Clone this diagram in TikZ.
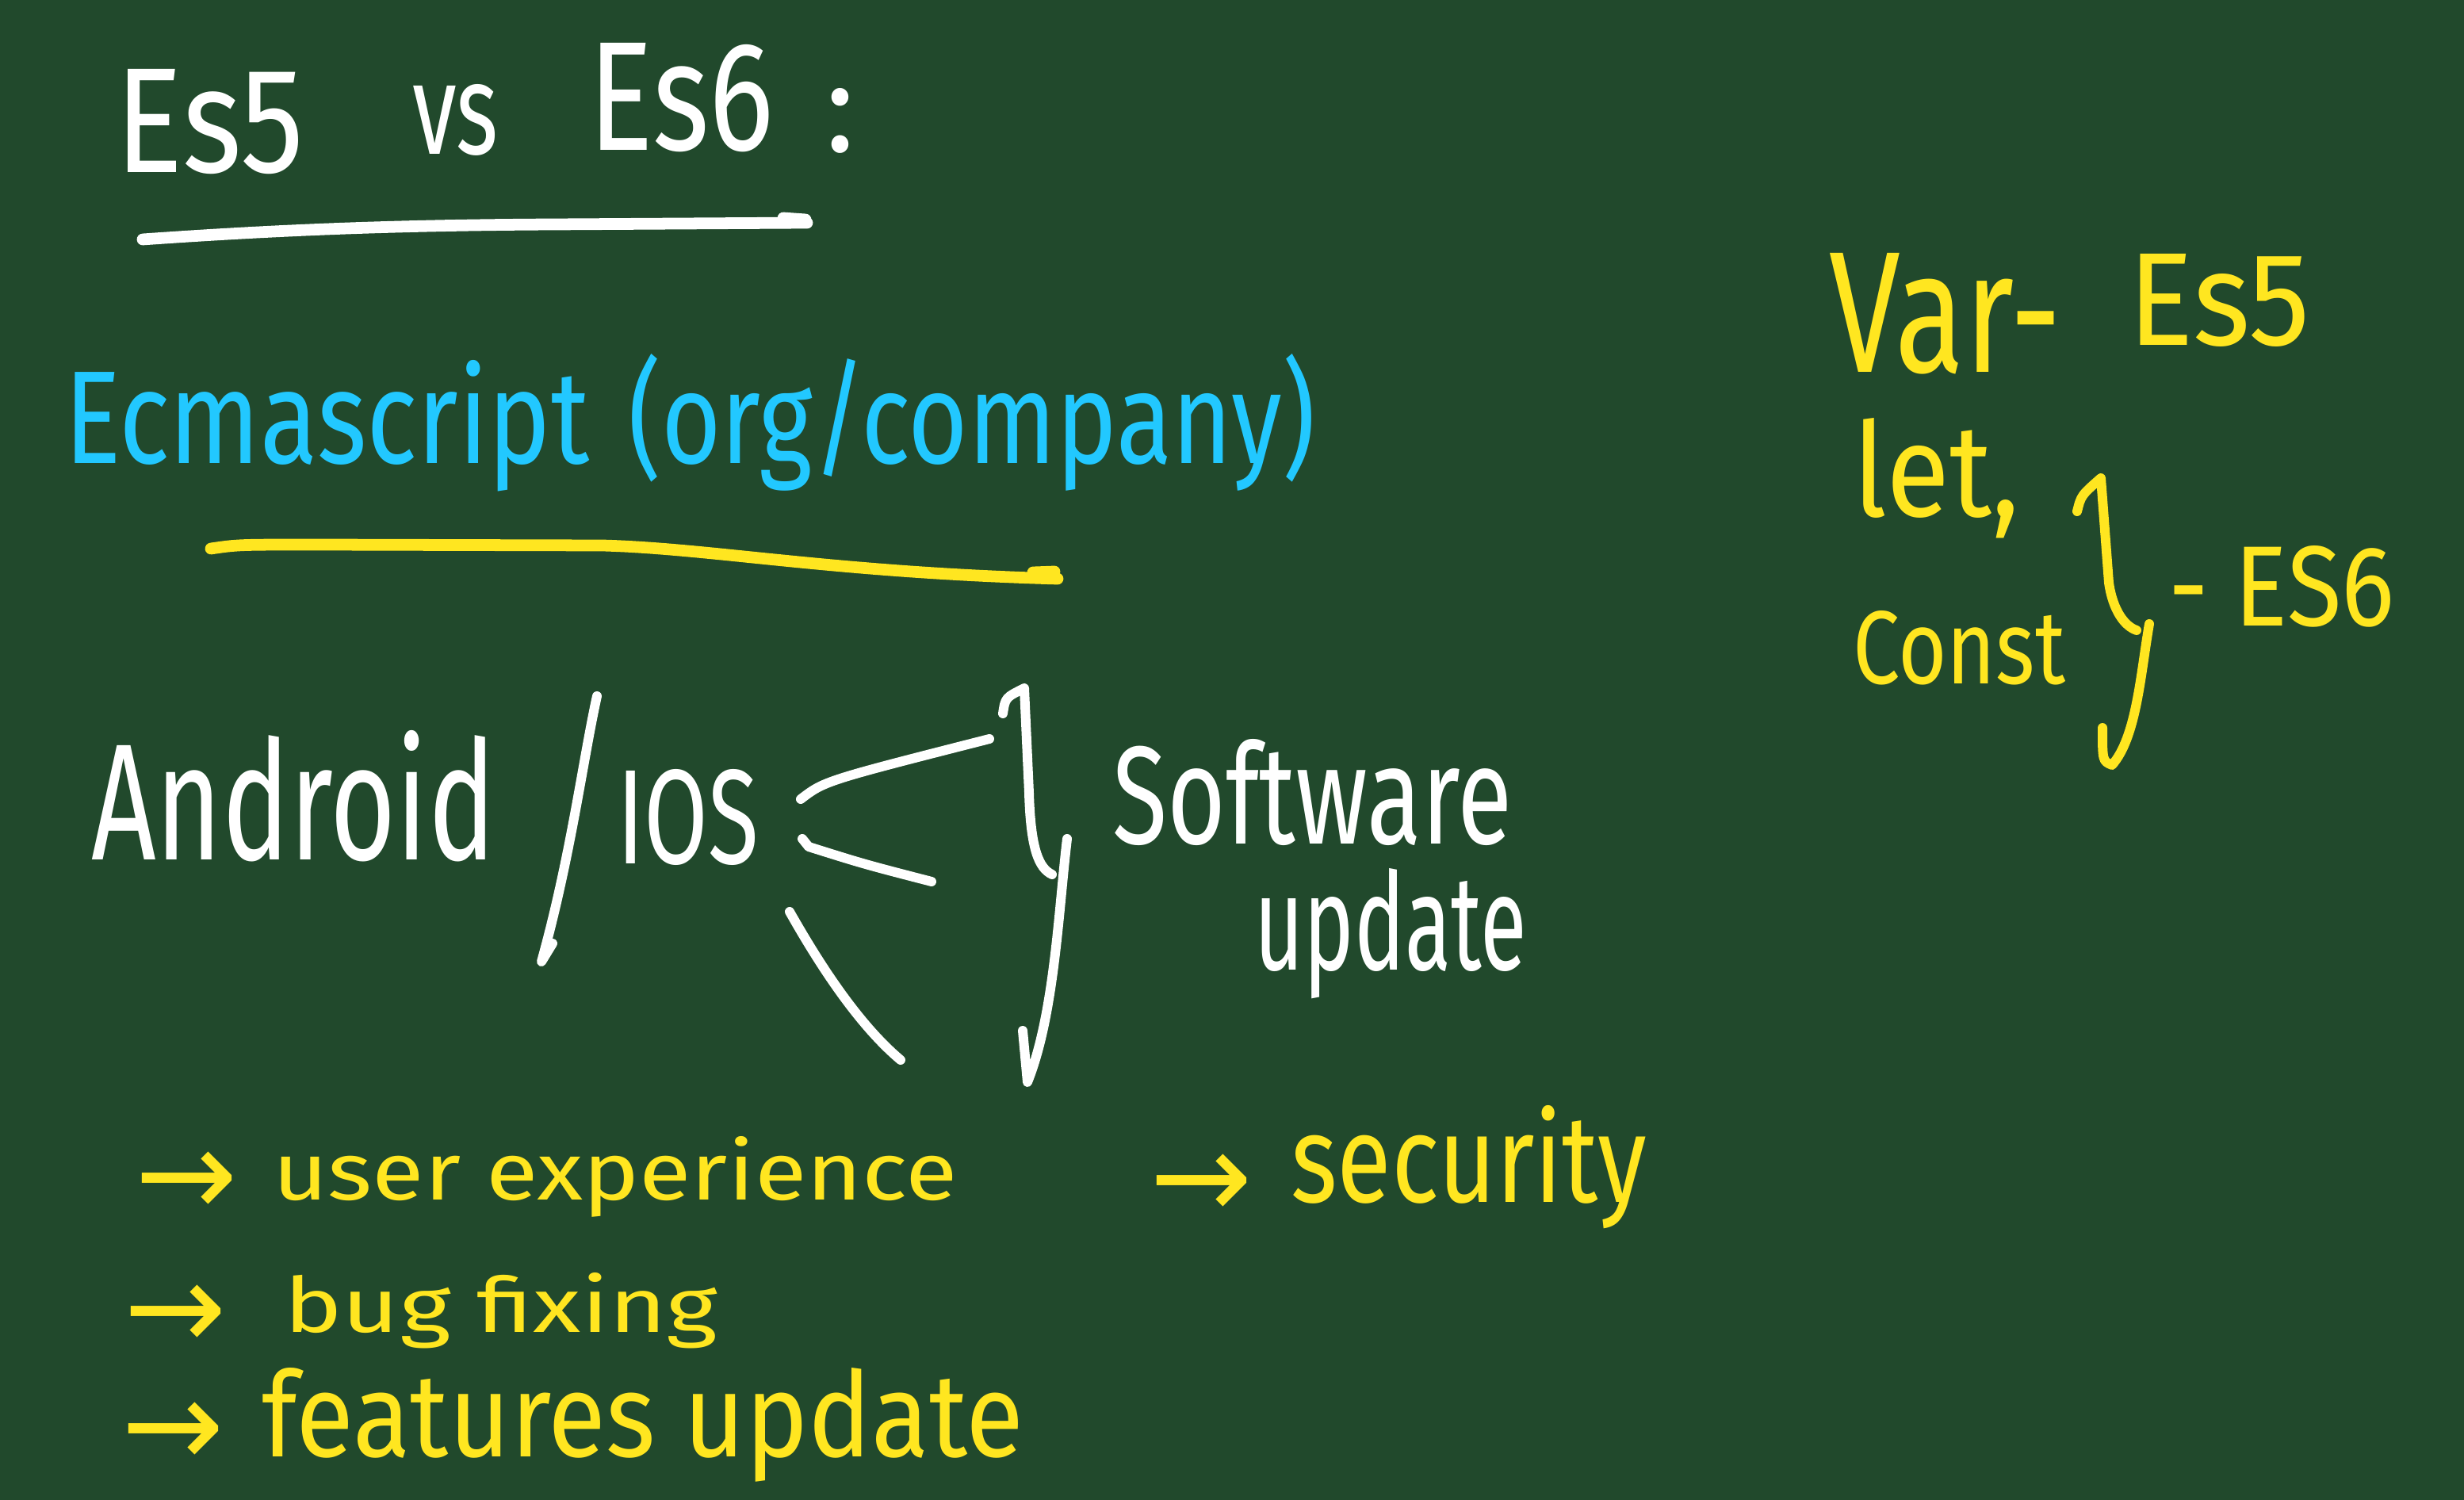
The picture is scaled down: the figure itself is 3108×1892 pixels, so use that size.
\documentclass[tikz,border=0pt]{standalone}
\usepackage{fontspec}
\usepackage{graphicx}
\setmainfont{Fira Sans}
\newfontfamily\arrowfont{DejaVu Sans}
\definecolor{board}{HTML}{21492C}
\definecolor{chalk}{HTML}{FFFFFF}
\definecolor{sky}{HTML}{22C8FF}
\definecolor{marker}{HTML}{FFE620}
% handwritten word: stretched to a given width and height (in cm)
\newcommand\hw[3]{\resizebox{#1cm}{#2cm}{#3}}
\begin{document}
\begin{tikzpicture}[x=0.01cm,y=-0.01cm,
  word/.style={anchor=base west,inner sep=0pt,outer sep=0pt},
  arrowglyph/.style={anchor=center,inner sep=0pt,outer sep=0pt,text=marker,
    font=\arrowfont\fontsize{44}{44}\selectfont},
  pen/.style={line width=3.4pt,line cap=round,line join=round},
  thickpen/.style={line width=4.2pt,line cap=round,line join=round}]
\useasboundingbox[fill=board] (0,0) rectangle (3108,1892);

% title
\node[word,text=chalk] (es5) at (145,218) {\hw{2.38}{1.30}{Es5}};
\node[word,text=chalk] (vs) at (520,195) {\hw{1.08}{0.88}{vs}};
\node[word,text=chalk] (es6) at (742,190) {\hw{2.34}{1.35}{Es6}};
\node[word,text=chalk,anchor=base] (colon) at (1060,192) {\hw{0.37}{0.80}{:}};
\draw[thickpen,chalk] (180,302) .. controls (350,290) and (500,284) .. (700,283) -- (1018,281);
\draw[thickpen,chalk] (988,275) -- (1016,277);

% Ecmascript
\node[word,text=sky] (ecma) at (81,585) {\hw{6.62}{1.30}{Ecmascript}};
\node[word,text=sky] (org) at (792,585) {\hw{8.67}{1.38}{(org/company)}};
\draw[thickpen,marker] (266,692) .. controls (300,687) .. (400,687) -- (760,688)
  .. controls (900,692) and (1050,722) .. (1334,730);
\draw[thickpen,marker] (1303,722) -- (1330,721);

% var / let / const
\node[word,text=marker] (var) at (2307,470) {\hw{2.93}{1.50}{Var-}};
\node[word,text=marker] (ves5) at (2684,436) {\hw{2.30}{1.15}{Es5}};
\node[word,text=marker] (let) at (2337,652) {\hw{2.11}{1.24}{let,}};
\node[word,text=marker] (const) at (2337,863) {\hw{2.68}{0.92}{Const}};
\node[word,text=marker] (ves6) at (2735,790) {\hw{2.85}{1.01}{- ES6}};
\draw[pen,marker] (2620,645) .. controls (2625,625) .. (2650,603) -- (2660,735)
  .. controls (2665,770) and (2680,790) .. (2695,795);
\draw[pen,marker] (2711,787) .. controls (2700,850) and (2695,930) .. (2664,965)
  .. controls (2652,960) .. (2652,918);

% Android / IOS
\node[word,text=chalk] (android) at (115,1085) {\hw{5.10}{1.63}{Android}};
\draw[pen,chalk] (753,878) .. controls (735,960) and (720,1080) .. (683,1213) -- (697,1190);
\node[word,text=chalk] (ios) at (778,1090) {\hw{1.79}{1.19}{IOS}};
\draw[pen,chalk] (1010,1008) .. controls (1040,985) .. (1248,932);
\draw[pen,chalk] (1012,1058) -- (1020,1068) .. controls (1090,1090) .. (1175,1112);
\draw[pen,chalk] (996,1150) .. controls (1030,1210) and (1080,1290) .. (1136,1337);
\draw[pen,chalk] (1265,900) .. controls (1268,880) .. (1292,868) -- (1298,1000)
  .. controls (1300,1070) and (1310,1095) .. (1327,1103);
\draw[pen,chalk] (1346,1058) .. controls (1335,1150) and (1330,1280) .. (1296,1365) -- (1290,1300);
\node[word,text=chalk] (software) at (1403,1065) {\hw{5.04}{1.32}{Software}};
\node[word,text=chalk] (update) at (1582,1224) {\hw{3.44}{1.28}{update}};

% reasons
\node[arrowglyph] (a1) at (235,1494) {→};
\node[word,text=marker] (ux) at (344,1513) {\hw{8.63}{0.80}{user experience}};
\node[arrowglyph] (a2) at (1515,1497) {→};
\node[word,text=marker] (sec) at (1628,1517) {\hw{4.49}{1.22}{security}};
\node[arrowglyph] (a3) at (221,1662) {→};
\node[word,text=marker] (bug) at (358,1680) {\hw{5.47}{0.75}{bug fixing}};
\node[arrowglyph] (a4) at (218,1810) {→};
\node[word,text=marker] (feat) at (330,1837) {\hw{9.61}{1.12}{features update}};
\end{tikzpicture}
\end{document}
